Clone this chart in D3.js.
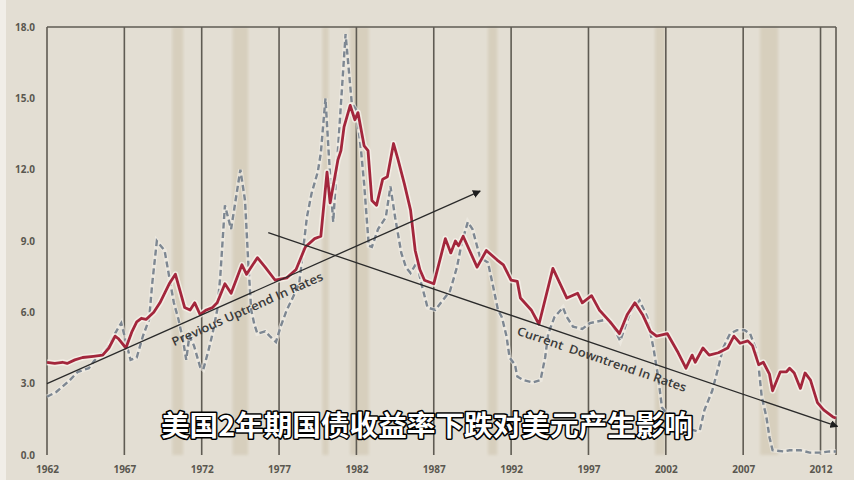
<!DOCTYPE html>
<html>
<head>
<meta charset="utf-8">
<script src="https://cdn.jsdelivr.net/npm/d3@7"></script>
<style>
body { margin: 0; background: #e3ded3; }
svg { display: block; }
</style>
</head>
<body>
<svg></svg>
<script>
// long yield (red) and short rate (dashed)
var yieldYears = [1962.0, 1962.5, 1963.0, 1963.3, 1963.8, 1964.3, 1965.0, 1965.6, 1966.0, 1966.4, 1966.6, 1967.1, 1967.5, 1967.8, 1968.1, 1968.4, 1968.9, 1969.3, 1969.6, 1969.9, 1970.3, 1970.6, 1970.9, 1971.25, 1971.55, 1971.9, 1972.3, 1972.7, 1973.0, 1973.5, 1973.9, 1974.6, 1974.9, 1975.6, 1976.1, 1976.75, 1977.5, 1978.1, 1978.7, 1979.3, 1979.7, 1980.1, 1980.3, 1980.8, 1981.0, 1981.2, 1981.6, 1981.9, 1982.1, 1982.5, 1982.75, 1983.0, 1983.3, 1983.7, 1984.0, 1984.4, 1984.7, 1985.1, 1985.5, 1985.8, 1986.1, 1986.4, 1987.0, 1987.75, 1988.1, 1988.4, 1988.6, 1988.9, 1989.8, 1990.4, 1991.1, 1991.5, 1992.0, 1992.4, 1992.6, 1993.3, 1993.8, 1994.7, 1995.6, 1996.3, 1996.6, 1997.2, 1997.7, 1998.4, 1999.0, 1999.5, 2000.0, 2000.5, 2001.0, 2001.4, 2002.1, 2002.8, 2003.3, 2003.7, 2003.9, 2004.4, 2004.8, 2005.4, 2006.0, 2006.4, 2006.8, 2007.3, 2007.6, 2008.0, 2008.3, 2008.7, 2008.9, 2009.4, 2009.8, 2010.0, 2010.3, 2010.7, 2011.0, 2011.35, 2011.8, 2012.2, 2012.8, 2013.0];
var yieldValues = [3.9, 3.85, 3.9, 3.85, 4.0, 4.1, 4.15, 4.2, 4.5, 5.0, 4.9, 4.5, 5.2, 5.6, 5.75, 5.7, 6.0, 6.4, 6.8, 7.2, 7.6, 6.9, 6.2, 6.1, 6.4, 5.9, 6.1, 6.2, 6.4, 7.2, 6.8, 8.0, 7.6, 8.3, 7.9, 7.35, 7.45, 7.8, 8.75, 9.1, 9.2, 11.9, 10.6, 12.4, 12.8, 13.8, 14.7, 14.1, 14.4, 13.0, 12.8, 10.7, 10.5, 11.6, 11.7, 13.1, 12.4, 11.4, 10.3, 8.6, 7.8, 7.35, 7.2, 9.1, 8.5, 9.0, 8.8, 9.2, 7.9, 8.6, 8.2, 8.0, 7.35, 7.3, 6.6, 6.1, 5.5, 7.85, 6.6, 6.8, 6.4, 6.7, 6.1, 5.6, 5.1, 5.9, 6.4, 5.9, 5.2, 5.0, 5.1, 4.3, 3.65, 4.2, 3.9, 4.5, 4.2, 4.3, 4.5, 5.0, 4.7, 4.8, 4.6, 3.8, 3.9, 3.4, 2.7, 3.5, 3.5, 3.65, 3.45, 2.8, 3.45, 3.15, 2.2, 1.9, 1.6, 1.55];

var shortYears = [1962.0, 1962.6, 1963.4, 1964.0, 1964.7, 1965.1, 1965.9, 1966.3, 1966.8, 1967.4, 1967.8, 1968.2, 1968.6, 1968.8, 1969.1, 1969.6, 1969.9, 1970.2, 1970.5, 1970.8, 1971.0, 1971.2, 1971.5, 1971.9, 1972.1, 1972.4, 1972.7, 1973.0, 1973.2, 1973.5, 1973.9, 1974.5, 1974.8, 1975.0, 1975.2, 1975.4, 1975.6, 1976.1, 1976.4, 1976.8, 1977.1, 1977.5, 1977.8, 1978.3, 1978.8, 1979.1, 1979.5, 1979.7, 1980.0, 1980.2, 1980.4, 1980.5, 1980.8, 1981.3, 1981.7, 1982.0, 1982.3, 1982.5, 1982.8, 1983.0, 1983.4, 1983.9, 1984.2, 1984.5, 1984.9, 1985.2, 1985.5, 1985.9, 1986.2, 1986.6, 1987.1, 1988.05, 1988.5, 1988.8, 1989.2, 1989.5, 1990.0, 1990.5, 1990.8, 1991.15, 1991.4, 1991.7, 1991.9, 1992.25, 1992.4, 1992.8, 1993.4, 1993.9, 1994.2, 1994.4, 1994.8, 1995.35, 1995.6, 1996.0, 1996.6, 1997.1, 1998.2, 1998.6, 1999.05, 1999.7, 2000.3, 2000.8, 2001.2, 2001.5, 2001.75, 2002.0, 2002.5, 2003.0, 2003.5, 2004.0, 2004.2, 2004.5, 2005.0, 2005.4, 2005.7, 2006.15, 2006.6, 2007.1, 2007.45, 2007.8, 2008.0, 2008.2, 2008.5, 2008.7, 2008.9, 2009.6, 2010.0, 2010.7, 2011.3, 2012.0, 2012.6, 2013.0];
var shortValues = [2.45, 2.65, 3.1, 3.5, 3.65, 4.0, 4.5, 5.0, 5.55, 4.0, 4.1, 5.0, 5.7, 7.2, 9.0, 8.6, 7.5, 6.4, 5.7, 4.8, 4.0, 5.0, 4.6, 3.7, 3.6, 4.3, 5.1, 6.1, 7.5, 10.5, 9.5, 12.0, 10.7, 8.2, 6.1, 5.5, 5.1, 5.2, 5.0, 4.75, 5.4, 6.1, 6.5, 7.2, 10.0, 11.0, 11.9, 12.7, 15.0, 12.8, 10.7, 9.8, 12.8, 17.7, 14.8, 14.5, 12.8, 11.4, 8.8, 8.75, 9.5, 10.0, 11.3, 10.0, 8.5, 7.9, 7.65, 8.1, 7.2, 6.2, 6.1, 6.9, 7.9, 8.9, 9.8, 9.5, 8.3, 8.1, 7.2, 6.1, 5.8, 5.0, 4.1, 3.8, 3.3, 3.15, 3.05, 3.15, 4.1, 5.1, 5.8, 6.2, 5.8, 5.4, 5.3, 5.55, 5.7, 5.4, 4.8, 6.0, 6.5, 5.8, 4.5, 3.3, 2.0, 1.8, 1.7, 1.3, 1.1, 1.0, 1.05, 1.9, 2.7, 3.7, 4.5, 5.1, 5.25, 5.25, 5.1, 4.5, 3.7, 2.45, 1.6, 0.75, 0.2, 0.15, 0.2, 0.2, 0.1, 0.1, 0.15, 0.15];

var recessionStart = [1970.1, 1974.0, 1979.8, 1981.6, 1990.5, 2001.3, 2008.1];
var recessionEnd = [1970.8, 1975.0, 1980.2, 1982.8, 1991.1, 2001.95, 2009.25];

var yearTicks = [1962, 1967, 1972, 1977, 1982, 1987, 1992, 1997, 2002, 2007, 2012];
var valueTicks = [0, 3, 6, 9, 12, 15, 18];

var upTrend = [[1962, 3.0], [1990.0, 11.1]];
var downTrend = [[1976.3, 9.35], [2013.1, 1.2]];

var svgWidth = 854, svgHeight = 480;
var svg = d3.select("svg")
    .attr("width", svgWidth)
    .attr("height", svgHeight);

var x = d3.scaleLinear().domain([1962, 2013]).range([47, 836]);
var y = d3.scaleLinear().domain([0, 18]).range([455, 27]);

var defs = svg.append("defs");
defs.append("filter").attr("id", "soft")
    .append("feGaussianBlur").attr("stdDeviation", 1.8);
defs.append("marker")
    .attr("id", "head")
    .attr("viewBox", "0 0 10 10")
    .attr("refX", 9).attr("refY", 5)
    .attr("markerWidth", 8).attr("markerHeight", 8)
    .attr("markerUnits", "userSpaceOnUse")
    .attr("orient", "auto")
    .append("path")
    .attr("d", "M0,0 L10,5 L0,10 Z")
    .attr("fill", "#1e1e1e");

svg.append("rect")
    .attr("width", svgWidth).attr("height", svgHeight)
    .attr("fill", "#e3ded3");
svg.append("rect")
    .attr("width", 6).attr("height", svgHeight)
    .attr("fill", "#f1eee8");

// recession shading
svg.append("g").selectAll("rect")
    .data(recessionStart)
    .enter()
    .append("rect")
    .attr("x", function(d) { return x(d); })
    .attr("width", function(d, i) { return x(recessionEnd[i]) - x(d); })
    .attr("y", y(18))
    .attr("height", y(0) - y(18))
    .attr("fill", "#d7cfbd")
    .attr("filter", "url(#soft)");

// vertical year lines and frame
svg.append("g").selectAll("line")
    .data(yearTicks.concat([2013]))
    .enter()
    .append("line")
    .attr("x1", function(d) { return x(d); })
    .attr("x2", function(d) { return x(d); })
    .attr("y1", y(18))
    .attr("y2", y(0))
    .attr("stroke", "#5f5b53")
    .attr("stroke-width", 1.6);
svg.append("line")
    .attr("x1", x(1962)).attr("x2", x(2013))
    .attr("y1", y(18)).attr("y2", y(18))
    .attr("stroke", "#5f5b53")
    .attr("stroke-width", 1.6);

var yAxis = svg.append("g")
    .attr("transform", "translate(" + x(1962) + ",0)")
    .call(d3.axisLeft(y).tickValues(valueTicks).tickSize(0).tickPadding(12).tickFormat(d3.format(".1f")));
var xAxis = svg.append("g")
    .attr("transform", "translate(0," + y(0) + ")")
    .call(d3.axisBottom(x).tickValues(yearTicks).tickSize(0).tickPadding(11).tickFormat(d3.format("d")));
[yAxis, xAxis].forEach(function(a) {
    a.select(".domain").remove();
    a.selectAll("text")
        .attr("fill", "#5a574f")
        .style("font-family", "'Noto Sans', sans-serif")
        .style("font-weight", "bold")
        .style("font-size", "10px");
});

var shortLine = d3.line()
    .x(function(d, i) { return x(shortYears[i]); })
    .y(function(d) { return y(d); });
var yieldLine = d3.line()
    .x(function(d, i) { return x(yieldYears[i]); })
    .y(function(d) { return y(d); });

svg.append("path")
    .attr("d", shortLine(shortValues))
    .attr("fill", "none")
    .attr("stroke", "#f2eee8")
    .attr("stroke-opacity", 0.6)
    .attr("stroke-width", 4.5);
svg.append("path")
    .attr("d", shortLine(shortValues))
    .attr("fill", "none")
    .attr("stroke", "#7d8792")
    .attr("stroke-width", 2.4)
    .attr("stroke-dasharray", "6,3.5");

svg.append("path")
    .attr("d", yieldLine(yieldValues))
    .attr("fill", "none")
    .attr("stroke", "#f6f1ea")
    .attr("stroke-opacity", 0.8)
    .attr("stroke-width", 6)
    .attr("stroke-linejoin", "round");
svg.append("path")
    .attr("d", yieldLine(yieldValues))
    .attr("fill", "none")
    .attr("stroke", "#a3263c")
    .attr("stroke-width", 2.8)
    .attr("stroke-linejoin", "round");

// trend arrows with their labels
function trendArrow(pts, label, t, offset, len) {
    var x1 = x(pts[0][0]), y1 = y(pts[0][1]);
    var x2 = x(pts[1][0]), y2 = y(pts[1][1]);
    svg.append("line")
        .attr("x1", x1).attr("y1", y1)
        .attr("x2", x2).attr("y2", y2)
        .attr("stroke", "#2a2a2a")
        .attr("stroke-width", 1.3)
        .attr("marker-end", "url(#head)");
    var angle = Math.atan2(y2 - y1, x2 - x1) * 180 / Math.PI;
    var px = x1 + (x2 - x1) * t, py = y1 + (y2 - y1) * t;
    svg.append("text")
        .attr("transform", "translate(" + px + "," + py + ") rotate(" + angle + ")")
        .attr("y", offset)
        .attr("text-anchor", "middle")
        .attr("dominant-baseline", "central")
        .attr("textLength", len)
        .attr("lengthAdjust", "spacingAndGlyphs")
        .style("white-space", "pre")
        .style("font-family", "'Open Sans', sans-serif")
        .style("font-weight", "600")
        .style("font-size", "12px")
        .attr("fill", "#3a3a3a")
        .text(label);
}
trendArrow(upTrend, "Previous Uptrend In Rates", 0.45, 13, 164);
trendArrow(downTrend, "Current  Downtrend In Rates", 0.593, 12, 178);

svg.append("text")
    .attr("x", 427)
    .attr("y", 424)
    .attr("text-anchor", "middle")
    .attr("dominant-baseline", "central")
    .attr("textLength", 532)
    .attr("lengthAdjust", "spacingAndGlyphs")
    .style("font-family", "'Noto Sans CJK SC', sans-serif")
    .style("font-weight", "bold")
    .style("font-size", "28px")
    .style("paint-order", "stroke")
    .attr("fill", "#ffffff")
    .attr("stroke", "#000000")
    .attr("stroke-width", 3)
    .attr("stroke-linejoin", "round")
    .text("美国2年期国债收益率下跌对美元产生影响");
</script>
</body>
</html>
